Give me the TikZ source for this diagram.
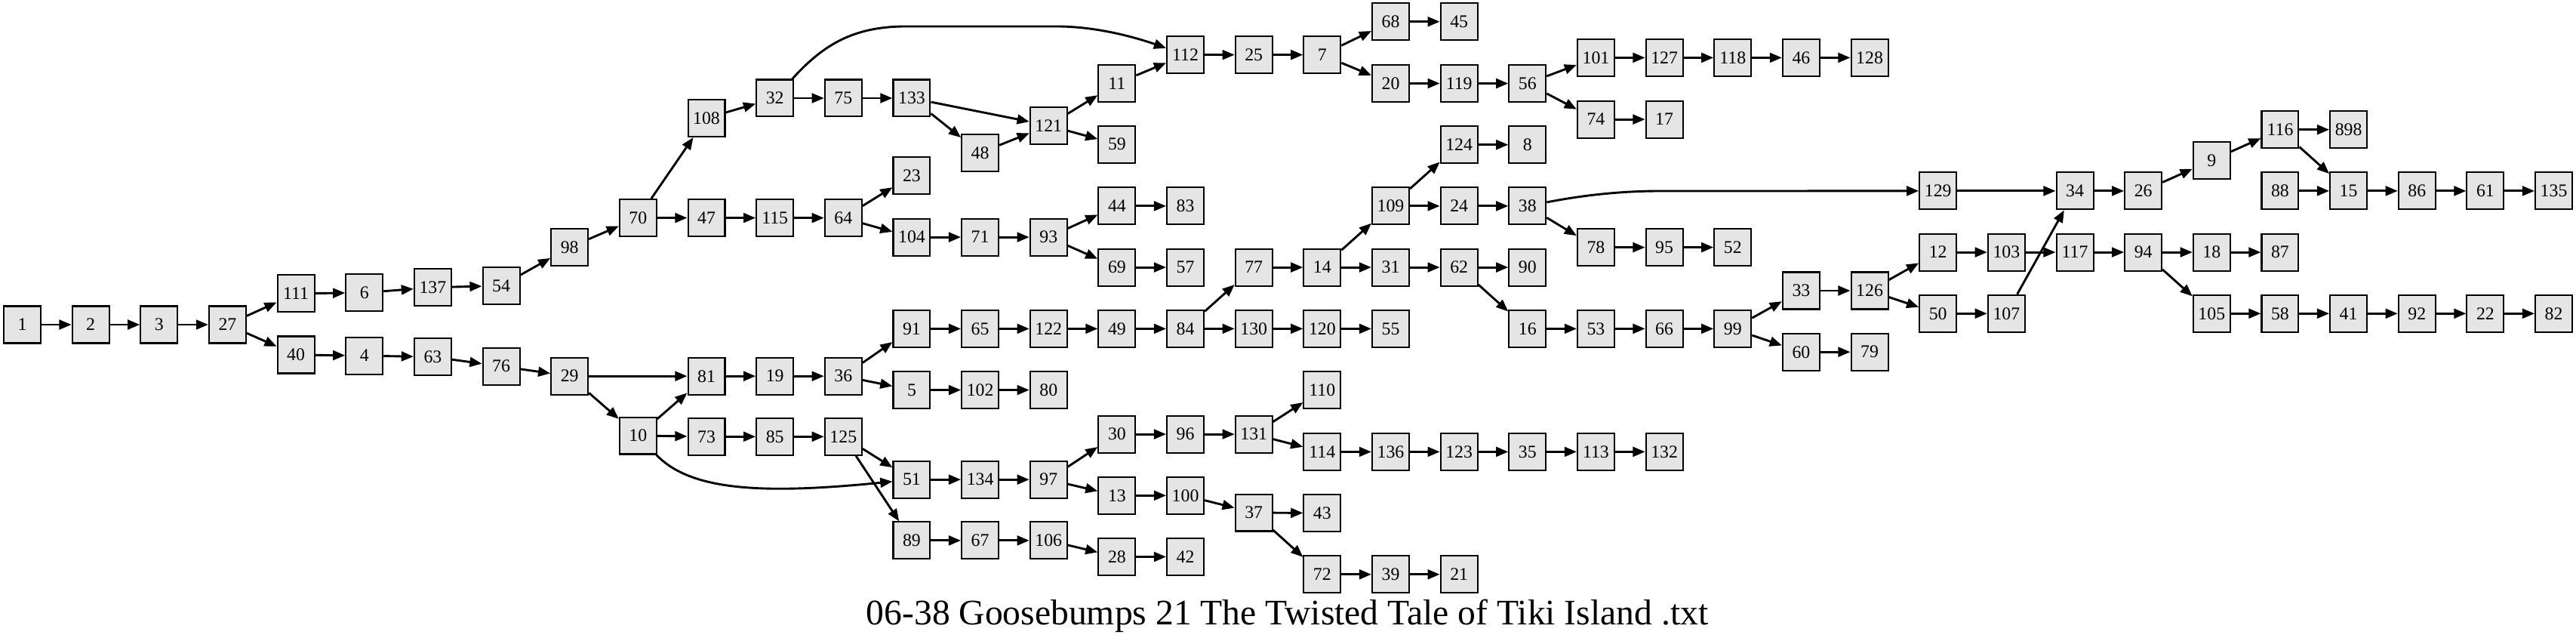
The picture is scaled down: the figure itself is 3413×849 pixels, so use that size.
\documentclass[tikz,border=0pt]{standalone}
\usepackage{fontspec}
\setmainfont{Liberation Serif}
\usetikzlibrary{arrows.meta}
\newcommand\mynode[3]{\node[box] (n#1) at ({29.5+90.65*#2},#3) {#1};}
\tikzset{
  box/.style={draw=black, line width=1.2pt, fill=gray!20, rectangle, minimum width=28.8pt, minimum height=28.8pt, inner sep=0pt, font=\fontsize{14pt}{16pt}\selectfont},
  edge/.style={line width=1.7pt, -{Triangle[length=9.5pt,width=7.5pt]}},
}
\begin{document}
\begin{tikzpicture}[x=0.5882pt, y=-0.5882pt]
\useasboundingbox (0,0) rectangle (3413,849);
\mynode{1}{0}{430}
\mynode{2}{1}{430}
\mynode{3}{2}{430}
\mynode{27}{3}{430}
\mynode{111}{4}{388.8}
\mynode{40}{4}{470}
\mynode{6}{5}{387.7}
\mynode{4}{5}{471.1}
\mynode{137}{6}{380.7}
\mynode{63}{6}{472.7}
\mynode{54}{7}{378.5}
\mynode{76}{7}{485.2}
\mynode{98}{8}{327.6}
\mynode{29}{8}{498.2}
\mynode{70}{9}{288.6}
\mynode{10}{9}{577}
\mynode{108}{10}{156.5}
\mynode{47}{10}{288.6}
\mynode{81}{10}{498.2}
\mynode{73}{10}{578.3}
\mynode{32}{11}{130}
\mynode{115}{11}{288.6}
\mynode{19}{11}{498.2}
\mynode{85}{11}{578.3}
\mynode{75}{12}{130}
\mynode{64}{12}{288.6}
\mynode{36}{12}{498.2}
\mynode{125}{12}{578.3}
\mynode{133}{13}{130}
\mynode{23}{13}{232.3}
\mynode{104}{13}{314.1}
\mynode{91}{13}{435.4}
\mynode{5}{13}{516.6}
\mynode{51}{13}{635.2}
\mynode{89}{13}{715.9}
\mynode{48}{14}{202.5}
\mynode{71}{14}{314.1}
\mynode{65}{14}{435.4}
\mynode{102}{14}{516.6}
\mynode{134}{14}{635.2}
\mynode{67}{14}{715.9}
\mynode{121}{15}{166.2}
\mynode{93}{15}{314.1}
\mynode{122}{15}{435.4}
\mynode{80}{15}{516.6}
\mynode{97}{15}{635.2}
\mynode{106}{15}{715.9}
\mynode{11}{16}{110.5}
\mynode{59}{16}{191.1}
\mynode{44}{16}{272.9}
\mynode{69}{16}{354.1}
\mynode{49}{16}{435.4}
\mynode{30}{16}{575.1}
\mynode{13}{16}{656.3}
\mynode{28}{16}{737.5}
\mynode{112}{17}{72.6}
\mynode{83}{17}{272.9}
\mynode{57}{17}{354.1}
\mynode{84}{17}{435.4}
\mynode{96}{17}{575.1}
\mynode{100}{17}{656.3}
\mynode{42}{17}{737.5}
\mynode{25}{18}{72.6}
\mynode{77}{18}{354.1}
\mynode{130}{18}{435.4}
\mynode{131}{18}{575.1}
\mynode{37}{18}{679}
\mynode{7}{19}{72.6}
\mynode{14}{19}{354.1}
\mynode{120}{19}{435.4}
\mynode{110}{19}{516.6}
\mynode{114}{19}{598.4}
\mynode{43}{19}{679.6}
\mynode{72}{19}{760.8}
\mynode{68}{20}{28.7}
\mynode{20}{20}{110.5}
\mynode{109}{20}{272.9}
\mynode{31}{20}{354.1}
\mynode{55}{20}{435.4}
\mynode{136}{20}{598.4}
\mynode{39}{20}{760.8}
\mynode{45}{21}{28.7}
\mynode{119}{21}{110.5}
\mynode{124}{21}{191.7}
\mynode{24}{21}{272.9}
\mynode{62}{21}{354.1}
\mynode{123}{21}{598.4}
\mynode{21}{21}{760.8}
\mynode{56}{22}{110.5}
\mynode{8}{22}{191.7}
\mynode{38}{22}{272.9}
\mynode{90}{22}{354.1}
\mynode{16}{22}{435.4}
\mynode{35}{22}{598.4}
\mynode{101}{23}{76.4}
\mynode{74}{23}{158.1}
\mynode{78}{23}{327.6}
\mynode{53}{23}{435.4}
\mynode{113}{23}{598.4}
\mynode{127}{24}{76.4}
\mynode{17}{24}{158.1}
\mynode{95}{24}{327.6}
\mynode{66}{24}{435.4}
\mynode{132}{24}{598.4}
\mynode{118}{25}{76.4}
\mynode{52}{25}{327.6}
\mynode{99}{25}{435.4}
\mynode{46}{26}{76.4}
\mynode{33}{26}{385}
\mynode{60}{26}{466.2}
\mynode{128}{27}{76.4}
\mynode{126}{27}{385}
\mynode{79}{27}{466.2}
\mynode{129}{28}{252.9}
\mynode{12}{28}{334.1}
\mynode{50}{28}{415.3}
\mynode{103}{29}{334.1}
\mynode{107}{29}{415.3}
\mynode{34}{30}{252.9}
\mynode{117}{30}{334.1}
\mynode{26}{31}{252.9}
\mynode{94}{31}{334.1}
\mynode{9}{32}{212.3}
\mynode{18}{32}{334.1}
\mynode{105}{32}{415.3}
\mynode{116}{33}{171.7}
\mynode{88}{33}{252.9}
\mynode{87}{33}{334.1}
\mynode{58}{33}{415.3}
\mynode{898}{34}{171.7}
\mynode{15}{34}{252.9}
\mynode{41}{34}{415.3}
\mynode{86}{35}{252.9}
\mynode{92}{35}{415.3}
\mynode{61}{36}{252.9}
\mynode{22}{36}{415.3}
\mynode{135}{37}{252.9}
\mynode{82}{37}{415.3}
\foreach \a/\b in {1/2, 2/3, 3/27, 27/111, 27/40, 111/6, 6/137, 137/54, 54/98, 98/70, 70/108, 70/47, 108/32, 32/75, 75/133, 133/121, 133/48, 48/121, 121/11, 121/59, 11/112, 112/25, 25/7, 7/68, 7/20, 68/45, 20/119, 119/56, 56/101, 56/74, 101/127, 127/118, 118/46, 46/128, 74/17,
47/115, 115/64, 64/23, 64/104, 104/71, 71/93, 93/44, 93/69, 44/83, 69/57,
40/4, 4/63, 63/76, 76/29, 29/81, 29/10, 10/81, 10/73, 81/19, 19/36, 36/91, 36/5, 91/65, 65/122, 122/49, 49/84, 84/77, 84/130, 77/14, 130/120, 120/55, 14/109, 14/31, 109/124, 109/24, 124/8, 24/38, 38/78, 78/95, 95/52, 31/62, 62/90, 62/16, 16/53, 53/66, 66/99, 99/33, 99/60, 33/126, 60/79, 126/12, 126/50, 12/103, 103/117, 50/107, 107/34, 129/34, 34/26, 26/9, 9/116, 116/898, 116/15, 88/15, 15/86, 86/61, 61/135, 117/94, 94/18, 94/105, 18/87, 105/58, 58/41, 41/92, 92/22, 22/82,
5/102, 102/80, 73/85, 85/125, 125/51, 125/89, 51/134, 134/97, 97/30, 97/13, 30/96, 96/131, 131/110, 131/114, 114/136, 136/123, 123/35, 35/113, 113/132, 13/100, 100/37, 37/43, 37/72, 72/39, 39/21, 89/67, 67/106, 106/28, 28/42}
  \draw[edge] (n\a) -- (n\b);
\draw[edge] (n32) .. controls (1090,60) and (1130,35) .. (1200,35) -- (1400,35) .. controls (1450,35) and (1500,48) .. (n112);
\draw[edge] (n10) .. controls (915,650) and (1010,655) .. (n51);
\draw[edge] (n38) .. controls (2100,258) and (2150,253) .. (2200,253) -- (n129);
\node[anchor=base, font=\fontsize{28pt}{32pt}\selectfont] (title) at (1705.5,827.7) {06-38 Goosebumps 21 The Twisted Tale of Tiki Island .txt};
\end{tikzpicture}
\end{document}
